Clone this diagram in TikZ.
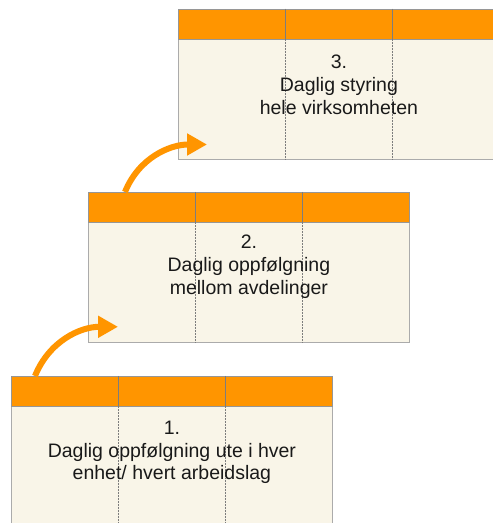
\documentclass[tikz,border=0pt]{standalone}
\usepackage{fontspec}
\setmainfont{Liberation Sans}
\usetikzlibrary{arrows.meta,calc}

\definecolor{hdrorange}{RGB}{255,149,0}
\definecolor{bodycream}{RGB}{249,245,232}
\definecolor{framegray}{RGB}{150,150,150}
\definecolor{rulegray}{RGB}{125,125,125}
\definecolor{txtdark}{RGB}{25,25,25}

\tikzset{
  hdr/.style={draw=framegray, line width=0.8pt, fill=hdrorange,
    minimum width=321pt, minimum height=30pt, inner sep=0pt, anchor=north west},
  bodybox/.style={draw=framegray!80, line width=0.8pt, fill=bodycream,
    minimum width=321pt, minimum height=120pt, inner sep=0pt, anchor=north west},
  coltick/.style={draw=rulegray, line width=0.7pt},
  colrule/.style={draw=rulegray, line width=0.5pt, densely dotted},
  label/.style={align=center, font=\fontsize{19.5}{22.8}\selectfont, text=txtdark,
    inner sep=0pt},
  climb/.style={draw=hdrorange, line width=6pt,
    -{Triangle[length=20pt,width=21pt]}},
}

% #1 name, #2 top-left corner, #3 text, #4 drop of the text centre below the body top
\newcommand{\stagebox}[4]{%
  \node[bodybox] (#1b) at ($#2+(0,-30)$) {};
  \node[hdr] (#1h) at #2 {};
  \foreach \k in {1,2} {
    \draw[coltick] ($(#1h.north west)+(107*\k,0)$) -- ($(#1h.south west)+(107*\k,0)$);
    \draw[colrule] ($(#1b.north west)+(107*\k,0)$) -- ($(#1b.south west)+(107*\k,0)$);
  }
  \node[label] (#1t) at ($(#1b.north)+(0,-#4)$) {#3};
}

\begin{document}
\begin{tikzpicture}[x=1pt,y=1pt]
  \useasboundingbox (0,0) rectangle (493,523);
  \clip (0,0) rectangle (493,523);
  \fill[white] (0,0) rectangle (493,523);

  \stagebox{s3}{(178,514.3)}{3.\\Daglig styring\\hele virksomheten}{46}
  \stagebox{s2}{(88,331)}{2.\\Daglig oppfølgning\\mellom avdelinger}{45}
  \stagebox{s1}{(11,147)}{1.\\Daglig oppfølgning ute i hver\\enhet/ hvert arbeidslag}{46.5}

  \coordinate (a1s) at ($(s1h.north west)+(24,0)$);
  \coordinate (a1e) at ($(s2b.south west)+(30,16)$);
  \coordinate (a2s) at ($(s2h.north west)+(37,0)$);
  \coordinate (a2e) at ($(s3b.south west)+(29,15)$);

  \draw[climb] (a1s) to[out=68,in=180] (a1e);
  \draw[climb] (a2s) to[out=68,in=180] (a2e);
\end{tikzpicture}
\end{document}
